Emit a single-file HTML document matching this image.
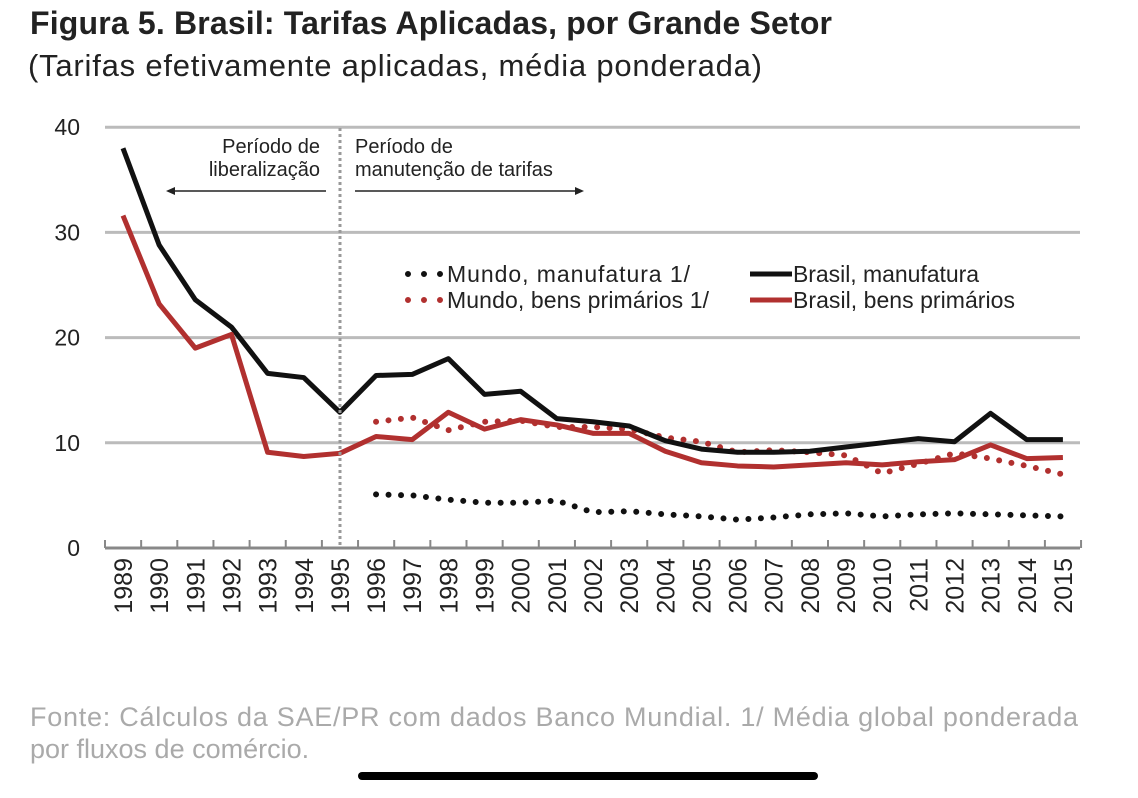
<!DOCTYPE html>
<html><head><meta charset="utf-8"><style>
body{margin:0;background:#fff;width:1138px;height:798px;overflow:hidden;font-family:"Liberation Sans",Arial,sans-serif}
</style></head><body>
<svg width="1138" height="798" style="position:absolute;left:0;top:0">
<text x="30" y="34" font-size="32" font-weight="bold" fill="#222" textLength="802">Figura 5. Brasil: Tarifas Aplicadas, por Grande Setor</text>
<text x="28" y="76" font-size="31" fill="#222" textLength="734">(Tarifas efetivamente aplicadas, média ponderada)</text>
<g id="grid"></g><g id="axis"></g><g id="series"></g>
<g font-size="20" fill="#222">
<line x1="340" y1="128" x2="340" y2="548" stroke="#999" stroke-width="3" stroke-dasharray="3,3"/>
<text x="320" y="153" text-anchor="end">Período de</text>
<text x="320" y="176" text-anchor="end">liberalização</text>
<text x="355" y="153">Período de</text>
<text x="355" y="176">manutenção de tarifas</text>
<line x1="168" y1="191" x2="326" y2="191" stroke="#222" stroke-width="1.5"/>
<path d="M166 191 l9 -4 v8z" fill="#222"/>
<line x1="355" y1="191" x2="580" y2="191" stroke="#222" stroke-width="1.5"/>
<path d="M584 191 l-9 -4 v8z" fill="#222"/>
</g>
<g font-size="23" fill="#222">
<line x1="408" y1="274" x2="442" y2="274" stroke="#111" stroke-width="6" stroke-linecap="round" stroke-dasharray="0,16"/>
<text x="447" y="282" textLength="243">Mundo, manufatura 1/</text>
<line x1="408" y1="300" x2="442" y2="300" stroke="#b1302f" stroke-width="6" stroke-linecap="round" stroke-dasharray="0,16"/>
<text x="447" y="308" textLength="262">Mundo, bens primários 1/</text>
<line x1="750" y1="274" x2="792" y2="274" stroke="#111" stroke-width="5"/>
<text x="793" y="282" textLength="186">Brasil, manufatura</text>
<line x1="750" y1="300" x2="792" y2="300" stroke="#b1302f" stroke-width="5"/>
<text x="793" y="308" textLength="222">Brasil, bens primários</text>
</g>
<text x="30" y="726" font-size="27" fill="#aaa" textLength="1048">Fonte: Cálculos da SAE/PR com dados Banco Mundial. 1/ Média global ponderada</text>
<text x="30" y="758" font-size="27" fill="#aaa">por fluxos de comércio.</text>
<rect x="358" y="772" width="460" height="8" rx="4" fill="#000"/>
</svg>
<script>
const years=[];for(let y=1989;y<=2015;y++)years.push(y);
const yTicks=[0,10,20,30,40];
const brasilManuf=[38,28.8,23.6,21,16.6,16.2,12.9,16.4,16.5,18,14.6,14.9,12.3,12,11.6,10.2,9.4,9.1,9.1,9.2,9.6,10,10.4,10.1,12.8,10.3,10.3];
const brasilPrim=[31.6,23.2,19,20.3,9.1,8.7,9.0,10.6,10.3,12.9,11.3,12.2,11.7,10.9,10.9,9.2,8.1,7.8,7.7,7.9,8.1,7.9,8.2,8.4,9.8,8.5,8.6];
const mundoYears=[1996,1997,1998,1999,2000,2001,2002,2003,2004,2005,2006,2007,2008,2009,2010,2011,2012,2013,2014,2015];
const mundoManuf=[5.1,5.0,4.6,4.3,4.3,4.5,3.4,3.5,3.2,3.0,2.7,2.9,3.2,3.3,3.0,3.2,3.3,3.2,3.1,3.0];
const mundoPrim=[12.0,12.4,11.2,12.0,12.1,11.5,11.5,11.3,10.5,10.1,9.1,9.3,9.1,8.8,7.1,8.0,9.0,8.5,7.8,7.0];
const NS="http://www.w3.org/2000/svg";
const X=y=>123+(y-1989)*36.15, Y=v=>548-v*10.52;
function mk(t,a,p){const e=document.createElementNS(NS,t);for(const k in a)e.setAttribute(k,a[k]);document.getElementById(p).appendChild(e);return e;}
yTicks.forEach(v=>{
 if(v>0){const l=mk('line',{x1:105,x2:1080,y1:Y(v),y2:Y(v),stroke:'#bbb','stroke-width':3},'grid');
 
 }
 const t=mk('text',{x:80,y:Y(v)+8,'text-anchor':'end','font-size':23,fill:'#222'},'grid');t.textContent=v;
 
 
});
const ax=mk('line',{x1:105,x2:1080,y1:548,y2:548,stroke:'#888','stroke-width':3},'axis');


for(let i=0;i<=years.length;i++){const x=X(1989)-18+i*36.15;mk('line',{x1:x,x2:x,y1:540,y2:548,stroke:'#888','stroke-width':2},'axis');}
years.forEach(y=>{const t=mk('text',{transform:`translate(${X(y)+9},${558}) rotate(-90)`,'text-anchor':'end','font-size':25,fill:'#222'},'axis');t.textContent=y;
 
 });
function line(xs,vals,color,dotted,name){
 const d=vals.map((v,i)=>(i?'L':'M')+X(xs[i])+' '+Y(v)).join(' ');
 const a={d:d,fill:'none',stroke:color,'stroke-width':dotted?6:5,'stroke-linejoin':'round'};
 if(dotted){a['stroke-dasharray']='0,12.5';a['stroke-linecap']='round';}
 const p=mk('path',a,'series');
 
 
}
line(mundoYears,mundoManuf,'#111',true,'line-mundo-manufatura');
line(mundoYears,mundoPrim,'#b1302f',true,'line-mundo-bens-primarios');
line(years,brasilManuf,'#111',false,'line-brasil-manufatura');
line(years,brasilPrim,'#b1302f',false,'line-brasil-bens-primarios');
</script>
</body></html>
